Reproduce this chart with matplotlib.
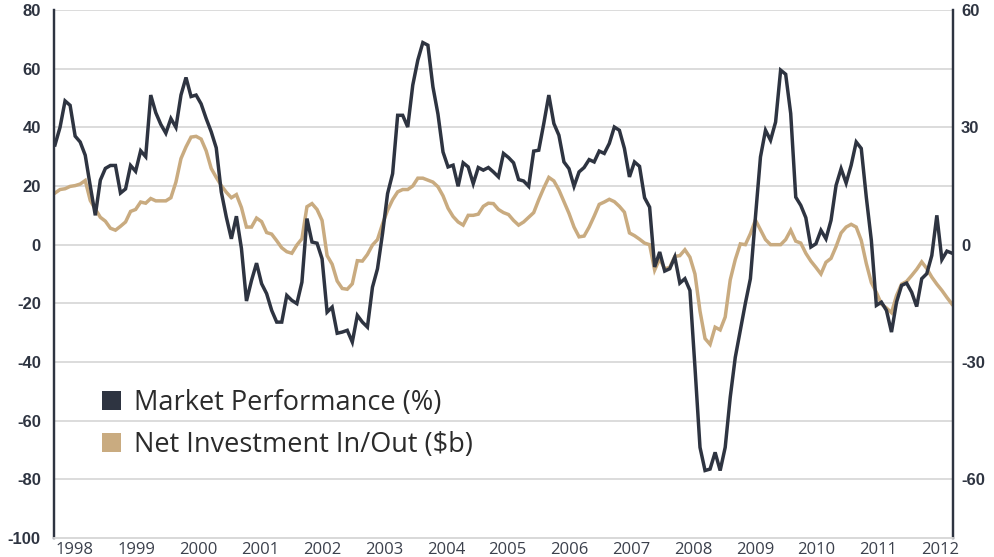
import numpy as np
import matplotlib
matplotlib.use("Agg")
import matplotlib.pyplot as plt
from matplotlib.patches import Patch

plt.rcParams["axes.unicode_minus"] = False

# ---- data ----
start_year = 1997.676
end_year = 2012.19

market_perf = [
    34, 40, 49, 47.5, 37, 35, 30.5, 20, 10, 22, 26, 27, 27, 17.6, 19, 27, 25, 32, 30, 51,
    45, 41, 38, 43, 40, 51, 57, 50.5, 51, 48,
    43, 38.5, 33, 18,
    9.4, 2, 9.7, -1.3, -19.2, -12.2, -6.3, -13.3, -16.7, -22.4, -26.4, -26.4, -17.3, -19, -20.1, -12.8,
    8.9, 0.9, 0.5, -4.8, -23, -21.3, -30.2, -29.8, -29.2, -33.2, -24.1, -26.4, -28.1, -14.5, -8.2, 3.8,
    17.4, 24.2, 44.1, 44.1, 40.1, 54.4, 62.9, 68.9,
    68, 53.8, 44.5, 31.6, 26.5, 27.1, 19.9, 27.9, 26.5, 20.8,
    26.3, 25.4, 26.3, 24.8, 23.1, 31.1, 29.7, 27.9, 22.2, 21.7,
    19.9, 31.9, 32.2, 41.3, 51, 41.3, 37.3, 28.2, 25.9, 19.9,
    24.8, 26.3, 29, 28.2, 31.9, 31.1, 34.5, 40.1, 39, 32.8,
    23.1, 28.2, 26.7, 16, 12.8, -7.6, -2.5, -9, -8.2, -4.2,
    -13.1, -11.6, -15.6, -41.8, -69.1, -77, -76.5, -70.8, -77, -69.1,
    -52, -38.4, -29.3, -20, -11.6, 9.4, 29.9, 39, 35.6, 41.8,
    59.5, 58.1, 44.7, 16.2, 13.4, 9.2, -0.8, 0.3, 4.9, 2,
    8.3, 20.2, 25.9, 21, 27.1, 35, 32.8, 16.2, 1.5, -20.7,
    -19.6, -22.4, -29.8, -19.6, -13.9, -13.1, -16.2, -21.1, -11.6, -9.9,
    -3.7, 10, -5.1, -2.2, -2.9,
]

net_investment = [
    13.2, 14.1, 14.3, 14.9, 15.1, 15.5, 16.4, 11.3, 9.1, 7,
    6, 4.2, 3.7, 4.7, 5.8, 8.5, 9, 10.9, 10.6, 11.8,
    11.2, 11.2, 11.2, 12, 16, 22, 25, 27.5, 27.7, 27,
    24, 19.5, 17.2, 15.1, 13.4, 12, 12.8, 9.5, 4.5, 4.5,
    6.8, 5.9, 3.1, 2.7, 1, -0.8, -1.8, -2.2, -0.1, 1.5,
    9.7, 10.5, 9, 6.2, -2.8, -5, -9.3, -11.2, -11.4, -10,
    -4.1, -4.2, -2.5, -0.1, 1.3, 5.3, 8.8, 11.5, 13.5, 14.1,
    14.1, 15, 17, 17, 16.5, 16, 14.8, 12.5, 9.3, 7.2,
    5.8, 5, 7.5, 7.5, 7.8, 9.8, 10.6, 10.5, 9, 8.2,
    7.7, 6.2, 5, 5.8, 7, 8.2, 11.5, 14.5, 17.2, 16.3,
    14, 11, 8, 4.5, 2, 2.2, 4.5, 7.3, 10.3, 10.9,
    11.6, 11, 9.8, 8.3, 3, 2.3, 1.4, 0.4, 0, -6.5,
    -3.6, -6.2, -5.8, -3, -2.8, -1.3, -3.2, -7.5, -17, -24,
    -25.5, -21.1, -21.8, -18.5, -9, -3.8, 0.2, 0, 2.8, 6.3,
    3.8, 1.3, 0, 0, 0, 1.3, 3.7, 0.9, 0.4, -2.2,
    -4.2, -5.8, -7.5, -4.5, -3.5, -0.5, 3, 4.5, 5.2, 4.5,
    1.1, -4.8, -9.7, -12.2, -15.2, -16.2, -17.4, -13, -10.1, -9.4,
    -7.9, -6.3, -4.4, -6.1, -8.3, -10.1, -11.7, -13.5, -15.2,
]

years = list(range(1998, 2013))
left_ticks = list(range(-100, 81, 20))
right_ticks = [-60, -30, 0, 30, 60]
series_names = ["Market Performance (%)", "Net Investment In/Out ($b)"]

# ---- style ----
DARK = "#2e3441"
TAN = "#c9ab80"
GRID = "#d9d9d9"
TXT = "#2e3441"

x = np.linspace(start_year, end_year, len(market_perf))

fig = plt.figure(figsize=(9.95, 5.57), dpi=100)
ax = fig.add_axes([54 / 995, 1 - 538 / 557, (952.7 - 54) / 995, (538 - 10) / 557])
ax2 = ax.twinx()

ax2.set_zorder(1)
ax.set_zorder(2)
ax.patch.set_visible(False)

ax2.plot(x, net_investment, color=TAN, lw=2.5, solid_joinstyle="miter")
ax.plot(x, market_perf, color=DARK, lw=2.5, solid_joinstyle="miter")

ax.set_xlim(1997.66, 2012.202)
ax.set_ylim(-100, 80)
ax2.set_ylim(-75, 60)

ax2.set_yticks(right_ticks)
ax2.set_yticks(np.arange(-75, 61, 15), minor=True)
ax2.grid(True, which="both", axis="y", color=GRID, lw=1.3)
ax2.tick_params(axis="y", which="minor", length=0)
ax.grid(False)

ax.set_yticks(left_ticks)
ax.set_xticks(years)
ax.set_xticklabels([str(y) for y in years])

for a in (ax, ax2):
    a.spines["top"].set_visible(False)
    a.spines["bottom"].set_color(GRID)
    a.spines["bottom"].set_linewidth(1.3)
    a.spines["left"].set_color(DARK)
    a.spines["right"].set_color(DARK)
    a.spines["left"].set_linewidth(1.6)
    a.spines["right"].set_linewidth(1.6)

ax.tick_params(axis="y", length=0, pad=9.5)
ax2.tick_params(axis="y", which="major", length=0, pad=6)
ax.tick_params(axis="x", length=0, pad=3)

for lab in ax.get_yticklabels() + ax2.get_yticklabels():
    lab.set_fontfamily("Liberation Sans")
    lab.set_fontweight("bold")
    lab.set_fontsize(12)
    lab.set_color(TXT)
for lab in ax.get_xticklabels():
    lab.set_fontfamily("Open Sans")
    lab.set_fontsize(12)
    lab.set_color("#3b404c")

handles = [Patch(facecolor=DARK, edgecolor="none"), Patch(facecolor=TAN, edgecolor="none")]
leg = ax.legend(handles, series_names, loc="upper left",
                bbox_to_anchor=(102 / 995, 1 - 389 / 557), bbox_transform=fig.transFigure,
                frameon=False, prop={"family": "Open Sans", "size": 19.5},
                handlelength=0.7, handleheight=0.7, handletextpad=0.48,
                labelspacing=0.53, borderpad=0, borderaxespad=0)
for t in leg.get_texts():
    t.set_color("#2b2b2b")

fig.savefig("out.png", dpi=100)
